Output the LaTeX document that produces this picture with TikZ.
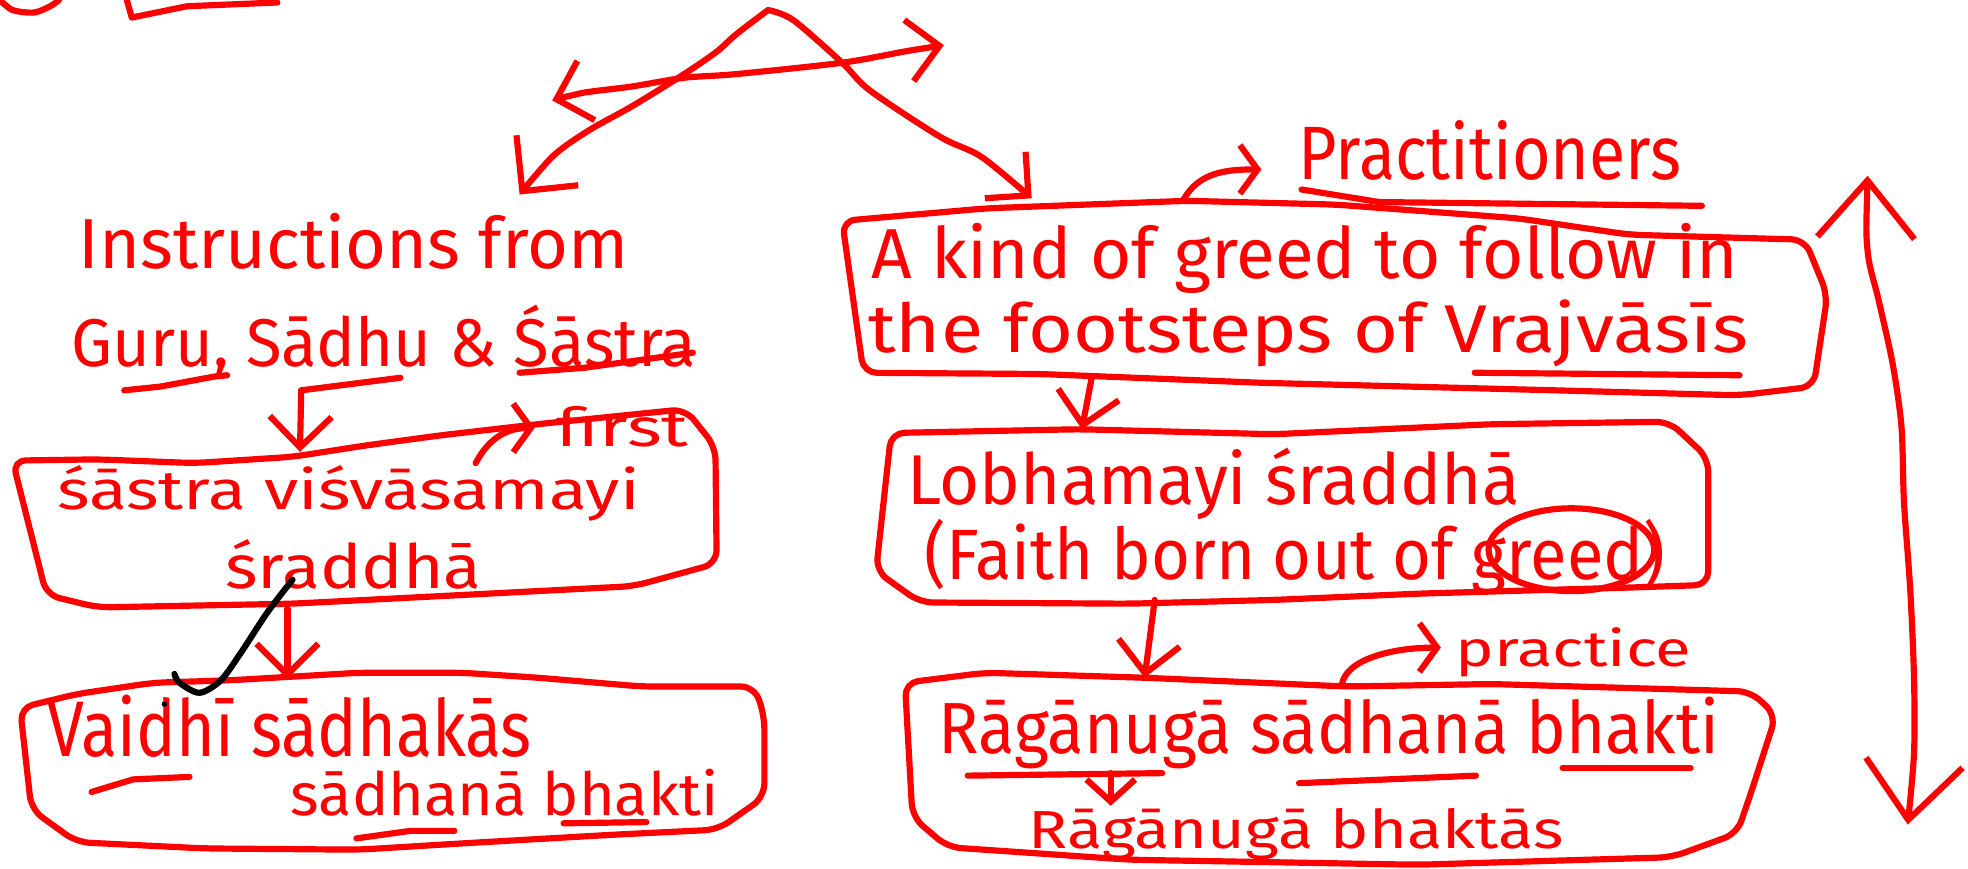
\documentclass[tikz,border=0pt]{standalone}
\usepackage{fontspec}
\setmainfont{Fira Sans}
\usetikzlibrary{arrows.meta}
\newlength\px
\setlength\px{0.01cm}
% text squeezed into a given width and height (in drawing units)
\newcommand\hw[3]{\resizebox{#1\px}{#2\px}{#3}}
\definecolor{ink}{RGB}{255,0,0}
\tikzset{
  pen/.style={draw=ink, line width=1.4pt, line cap=round, line join=round},
  boxline/.style={pen, rounded corners=3pt},
  lbl/.style={text=ink, inner sep=0pt, anchor=base west},
  >={Straight Barb[length=7pt,width=14pt]},
  small tip/.style={>={Straight Barb[length=4pt,width=11pt]}},
  big tip/.style={>={Straight Barb[length=9pt,width=18pt]}},
  huge tip/.style={>={Straight Barb[length=13pt,width=22pt]}},
}
\begin{document}
\begin{tikzpicture}[x=0.01cm,y=-0.01cm]
\useasboundingbox (0,0) rectangle (1568,692);

% leftover strokes at the top edge
\draw[pen] plot[smooth] coordinates {(0,0) (10,8) (27,10) (40,5) (47,0)};
\draw[pen] (101,0) -- (105,14) -- (149,5) -- (221,2);

% ---------- triangle of arrows ----------
\coordinate (apex) at (612,8);
\coordinate (tipL) at (414,155);
\coordinate (tipR) at (822,158);
\coordinate (hL) at (440,80);
\coordinate (hR) at (752,36);
\draw[pen,->,big tip] plot[smooth] coordinates {(apex) (587,27) (570,42) (542,61) (503,85) (469,104) (441,124) (tipL)};
\draw[pen,->] plot[smooth] coordinates {(apex) (632,16) (671,50) (693,72) (749,109) (782,125) (tipR)};
\draw[pen,<->] plot[smooth] coordinates {(hL) (464,74) (503,69) (545,62) (587,59) (671,50) (721,41) (hR)};

% ---------- left column ----------
\node[lbl] (instr) at (62,214) {\hw{438}{44}{Instructions from}};
\node[lbl] (gss) at (56,292) {\hw{498}{49}{Guru, Sādhu \& Śāstra}};
\draw[pen] (99,311) -- (128,308) -- (171,300) -- (181,299);
\draw[pen] (414,297) -- (466,293) -- (552,281);

\coordinate (gamTop) at (319,301);
\coordinate (gamCorner) at (240,311);
\coordinate (b1in) at (239,360);
\draw[pen] (gamTop) -- (gamCorner);
\draw[pen,->] (gamCorner) -- (b1in);

% box: sastra visvasamayi sraddha
\draw[boxline] (10,367) -- (78,366) -- (155,369) -- (233,364) -- (291,355) -- (350,347)
  -- (428,338) -- (546,326) -- (570,356) -- (571,449) -- (505,467) -- (389,473)
  -- (233,481) -- (78,484) -- (37,474) -- cycle;
\node[lbl] (sv) at (45,406) {\hw{464}{35}{śāstra viśvāsamayi}};
\node[lbl] (sr1) at (179,469) {\hw{204}{39}{śraddhā}};
\coordinate (firstFrom) at (379,369);
\coordinate (firstTo) at (426,341);
\draw[pen,->,small tip] (firstFrom) .. controls (390,348) and (405,341) .. (firstTo);
\node[lbl] (first) at (443,356) {\hw{105}{32}{first}};

\coordinate (b1out) at (229,485);
\coordinate (b2in) at (229,541);
\draw[pen,->] (b1out) -- (b2in);

% box: vaidhi sadhakas
\draw[boxline] (16,564) -- (61,553) -- (122,544) -- (184,542) -- (286,536) -- (368,536)
  -- (429,540) -- (511,547) -- (601,547) -- (609,570) -- (609,635) -- (572,661)
  -- (490,665) -- (368,672) -- (286,677) -- (163,676) -- (61,671) -- (25,645) -- cycle;
\node[lbl] (vs) at (37,603) {\hw{386}{49}{Vaidhī sādhakās}};
\node[lbl] (sb) at (231,650) {\hw{341}{37}{sādhanā bhakti}};
\draw[pen] (73,631) -- (106,621) -- (151,619);
\draw[pen] (284,668) -- (327,662) -- (362,662);
\draw[pen] (449,656) -- (515,655);

% black stroke
\draw[black, line width=1.4pt, line cap=round] plot[smooth] coordinates
  {(233,462) (213,488) (192,520) (176,542) (159,552) (143,544) (139,537)};
\fill[black] (233,462) circle (2.4);
\fill[black] (131,561) circle (2.2);

% ---------- right column ----------
\node[lbl] (prac) at (1034,143) {\hw{305}{47}{Practitioners}};
\draw[pen] (1037,151) -- (1099,161) -- (1356,164);
\coordinate (pracFrom) at (943,159);
\coordinate (pracTo) at (1005,135);
\draw[pen,->,small tip] (pracFrom) .. controls (955,138) and (975,135) .. (pracTo);

% box: kind of greed
\draw[boxline] (671,176) -- (786,166) -- (946,160) -- (1064,163) -- (1210,174)
  -- (1298,187) -- (1438,191) -- (1456,235) -- (1445,308) -- (1386,315)
  -- (1239,311) -- (1005,305) -- (829,298) -- (688,297) -- cycle;
\node[lbl] (kg) at (694,222) {\hw{690}{44}{A kind of greed to follow in}};
\node[lbl] (fs) at (691,281) {\hw{701}{42}{the footsteps of Vrajvāsīs}};
\draw[pen] (1175,297) -- (1386,299);

\coordinate (b3out) at (870,300);
\coordinate (b4in) at (862,342);
\draw[pen,->] (b3out) -- (b4in);

% box: lobhamayi sraddha
\draw[boxline] (710,345) -- (860,342) -- (1015,346) -- (1188,338) -- (1330,336)
  -- (1361,365) -- (1361,466) -- (1303,468) -- (1130,473) -- (1015,478)
  -- (900,481) -- (733,480) -- (698,455) -- cycle;
\node[lbl] (lm) at (722,402) {\hw{488}{45}{Lobhamayi śraddhā}};
\node[lbl] (fb) at (736,462) {\hw{590}{48}{(Faith born out of greed)}};
\draw[pen] (1252,438) ellipse [x radius=66, y radius=33];

\coordinate (b4out) at (920,478);
\coordinate (b5in) at (912,540);
\draw[pen,->] (b4out) -- (b5in);

% box: raganuga sadhana bhakti
\draw[boxline] (721,544) -- (785,536) -- (912,540) -- (1073,547) -- (1188,545)
  -- (1395,551) -- (1415,570) -- (1395,632) -- (1384,664) -- (1332,683)
  -- (1130,689) -- (900,685) -- (755,675) -- (727,651) -- cycle;
\coordinate (pFrom) at (1069,546);
\coordinate (pTo) at (1148,516);
\draw[pen,->,small tip] (pFrom) .. controls (1072,525) and (1110,516) .. (pTo);
\node[lbl] (practice) at (1159,531) {\hw{188}{31}{practice}};
\node[lbl] (rsb) at (747,600) {\hw{622}{45}{Rāgānugā sādhanā bhakti}};
\draw[pen] (771,618) -- (926,616);
\draw[pen] (1035,624) -- (1176,618);
\draw[pen] (1245,612) -- (1347,612);
\coordinate (rgFrom) at (885,616);
\coordinate (rgTo) at (885,642);
\draw[pen,->,>={Straight Barb[length=5pt,width=11pt]}] (rgFrom) -- (rgTo);
\node[lbl] (rb) at (819,676) {\hw{426}{32}{Rāgānugā bhaktās}};

% long vertical double arrow
\coordinate (vTop) at (1488,140);
\coordinate (vBot) at (1520,657);
\draw[pen,<->,huge tip] plot[smooth] coordinates {(vTop) (1488,200) (1497,240) (1508,290)
  (1515,340) (1517,400) (1522,470) (1525,540) (1525,600) (vBot)};
\end{tikzpicture}
\end{document}
